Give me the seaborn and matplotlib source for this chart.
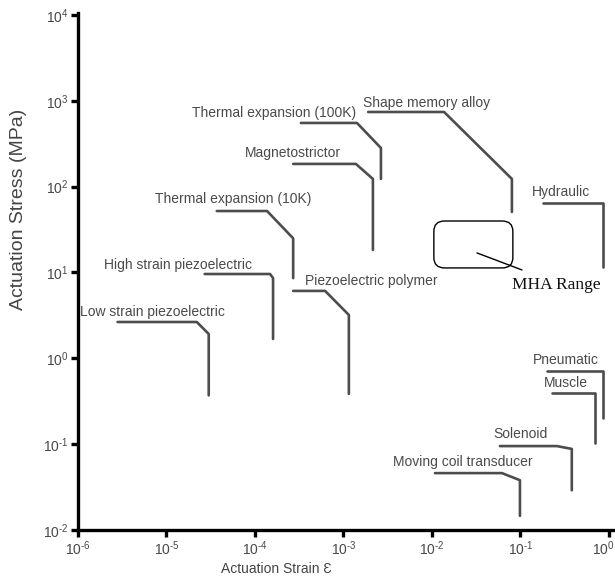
import numpy as np
import pandas as pd
import matplotlib
matplotlib.use("Agg")
import matplotlib.pyplot as plt
from matplotlib.patches import FancyBboxPatch
from matplotlib.transforms import ScaledTranslation
import seaborn as sns

# Actuator envelopes: each bracket runs along the maximum stress, bends,
# then drops along the maximum strain down to the minimum stress.
actuators = [
    "Low strain piezoelectric", "High strain piezoelectric", "Thermal expansion (10K)",
    "Thermal expansion (100K)", "Magnetostrictor", "Shape memory alloy",
    "Hydraulic", "Piezoelectric polymer", "Pneumatic", "Muscle",
    "Solenoid", "Moving coil transducer",
]
strain_start = [2.8e-6, 2.7e-5, 3.7e-5, 3.3e-4, 2.7e-4, 1.9e-3,
                0.18, 2.7e-4, 0.20, 0.227, 0.0586, 0.0108]
strain_knee = [2.2e-5, 1.48e-4, 1.37e-4, 1.42e-3, 1.38e-3, 0.0137,
               0.855, 6.2e-4, 0.855, 0.70, 0.258, 0.0618]
strain_max = [3.0e-5, 1.6e-4, 2.7e-4, 2.65e-3, 2.15e-3, 0.080,
              0.855, 1.15e-3, 0.855, 0.70, 0.38, 0.0986]
stress_max = [2.65, 9.6, 52, 552, 184, 741,
              64.5, 6.1, 0.71, 0.39, 0.095, 0.046]
stress_knee = [1.92, 8.6, 25, 282, 123, 123,
               64.5, 3.2, 0.71, 0.39, 0.088, 0.038]
stress_min = [0.37, 1.68, 8.6, 123, 18.3, 50.7,
              11.6, 0.385, 0.20, 0.103, 0.029, 0.0146]

# Where each name sits (strain, stress) relative to its bracket
label_strain = [1.05e-6, 1.97e-6, 7.4e-6, 1.94e-5, 7.7e-5, 1.66e-3,
                0.135, 3.67e-4, 0.138, 0.185, 0.0489, 3.6e-3]
label_stress = [3.47, 12.2, 71.8, 722, 247, 944,
                86.7, 7.96, 0.957, 0.516, 0.131, 0.062]

# MHA operating region and its pointer
mha_strain = [0.0105, 0.082]
mha_stress = [11.3, 39.8]
mha_pointer_strain = [0.0322, 0.104]
mha_pointer_stress = [16.9, 10.7]
mha_label = "MHA Range"
mha_label_pos = (0.080, 7.16)

x_exponents = [-6, -5, -4, -3, -2, -1, 0]
y_exponents = [-2, -1, 0, 1, 2, 3, 4]
x_lim = (1e-6, 10 ** 0.068)
y_lim = (1e-2, 10 ** 4.023)

rows = []
for i, name in enumerate(actuators):
    path = [(strain_start[i], stress_max[i]), (strain_knee[i], stress_max[i]),
            (strain_max[i], stress_knee[i]), (strain_max[i], stress_min[i])]
    for k, (sx, sy) in enumerate(path):
        rows.append({"actuator": name, "order": k, "strain": sx, "stress": sy})
df = pd.DataFrame(rows)

sns.set_theme(style="ticks")
plt.rcParams["font.family"] = ["Liberation Sans", "DejaVu Sans"]
plt.rcParams["mathtext.fontset"] = "custom"
plt.rcParams["mathtext.rm"] = "Liberation Sans"
plt.rcParams["mathtext.it"] = "Liberation Sans"
plt.rcParams["mathtext.default"] = "regular"

fig = plt.figure(figsize=(6.15, 5.84), dpi=100)
ax = fig.add_axes([78 / 615, 54 / 584, 537 / 615, 517 / 584])

line_color = "#4d4d4d"
text_color = "#4a4a4a"

sns.lineplot(data=df, x="strain", y="stress", units="actuator", estimator=None,
             sort=False, color=line_color, linewidth=1.9, ax=ax)

ax.set_xscale("log")
ax.set_yscale("log")
ax.set_xlim(*x_lim)
ax.set_ylim(*y_lim)
ax.minorticks_off()


def power_label(e):
    # plain hyphen in the exponent, as in the printed figure
    sign = "\u2010" if e < 0 else ""
    return "10$^{%s%d}$" % (sign, abs(e))


ax.set_xticks([10.0 ** e for e in x_exponents])
ax.set_xticklabels([power_label(e) for e in x_exponents])
ax.set_yticks([10.0 ** e for e in y_exponents])
ax.set_yticklabels([power_label(e) for e in y_exponents])

for name, lx, ly in zip(actuators, label_strain, label_stress):
    ax.text(lx, ly, name, ha="left", va="center", fontsize=10, color=text_color)


# MHA region drawn as a rounded box in axes fraction
def frac(v, lim):
    return (np.log10(v) - np.log10(lim[0])) / (np.log10(lim[1]) - np.log10(lim[0]))


bx0, bx1 = frac(mha_strain[0], x_lim), frac(mha_strain[1], x_lim)
by0, by1 = frac(mha_stress[0], y_lim), frac(mha_stress[1], y_lim)
ax.add_patch(FancyBboxPatch((bx0, by0), bx1 - bx0, by1 - by0,
                            boxstyle="round,pad=0,rounding_size=0.02",
                            transform=ax.transAxes, fill=False,
                            edgecolor="black", linewidth=1.0))
ax.plot(mha_pointer_strain, mha_pointer_stress, color="black", linewidth=1.0)
ax.text(mha_label_pos[0], mha_label_pos[1], mha_label, ha="left", va="center",
        fontsize=12.5, color="#111111", family=["Liberation Serif", "DejaVu Serif"])

for side in ["top", "right"]:
    ax.spines[side].set_visible(False)
for side in ["left", "bottom"]:
    ax.spines[side].set_linewidth(2.4)
    ax.spines[side].set_color("black")
ax.tick_params(axis="both", which="major", length=5, width=2.4, color="black",
               labelsize=10, labelcolor="#484848", pad=2)

# keep the rightmost strain label inside the figure
last = ax.get_xticklabels()[-1]
last.set_transform(last.get_transform() + ScaledTranslation(-4 / 72, 0, fig.dpi_scale_trans))

ax.set_xlabel("Actuation Strain Ɛ", fontsize=10, color="#444444")
ax.set_ylabel("Actuation Stress (MPa)", fontsize=14, color="#444444")
ax.xaxis.set_label_coords(0.37, -0.062)
ax.yaxis.set_label_coords(-0.095, 0.62)

fig.savefig("out.png", dpi=100)
